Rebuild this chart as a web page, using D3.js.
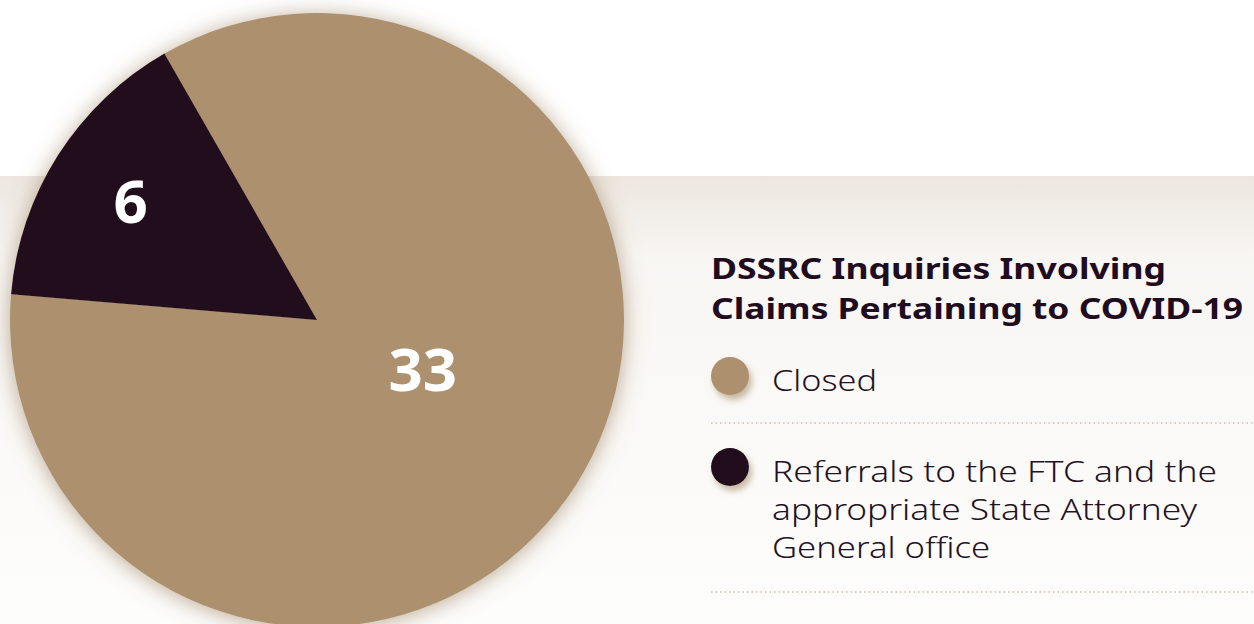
<!DOCTYPE html>
<html>
<head>
<meta charset="utf-8">
<script src="https://cdn.jsdelivr.net/npm/d3@7"></script>
<style>
  html, body { margin: 0; padding: 0; background: #fff; }
  svg { display: block; }
</style>
</head>
<body>
<svg id="chart" width="1254" height="624"></svg>
<script>
// data
const categories = ['Closed', 'Referrals to the FTC and the appropriate State Attorney General office'];
const values = [33, 6];
const colors = ['#ad916e', '#200d1f'];
const titleLines = ['DSSRC Inquiries Involving', 'Claims Pertaining to COVID-19'];
const legendLines = [['Closed'], ['Referrals to the FTC and the', 'appropriate State Attorney', 'General office']];

const W = 1254, H = 624;
const svg = d3.select('#chart');
const defs = svg.append('defs');

// background band gradient
const grad = defs.append('linearGradient')
  .attr('id', 'band').attr('x1', 0).attr('y1', 0).attr('x2', 0).attr('y2', 1);
grad.append('stop').attr('offset', '0%').attr('stop-color', '#ece6df');
grad.append('stop').attr('offset', '18%').attr('stop-color', '#f8f6f3');
grad.append('stop').attr('offset', '100%').attr('stop-color', '#fdfdfc');

// pie shadow
const sh = defs.append('filter').attr('id', 'pieShadow')
  .attr('x', '-20%').attr('y', '-20%').attr('width', '140%').attr('height', '140%');
sh.append('feDropShadow')
  .attr('dx', 0).attr('dy', 2).attr('stdDeviation', 11)
  .attr('flood-color', '#86653f').attr('flood-opacity', 0.55);

// legend dot shadow
const sh2 = defs.append('filter').attr('id', 'dotShadow')
  .attr('x', '-50%').attr('y', '-50%').attr('width', '200%').attr('height', '200%');
sh2.append('feDropShadow')
  .attr('dx', 3).attr('dy', 5).attr('stdDeviation', 3)
  .attr('flood-color', '#a0835f').attr('flood-opacity', 0.55);

svg.append('rect').attr('x', 0).attr('y', 176).attr('width', W).attr('height', H - 176)
  .attr('fill', 'url(#band)');

// pie
const cx = 317, cy = 320, R = 307;
const total = d3.sum(values);
const darkSpan = values[1] / total * 2 * Math.PI;
const darkMid = -57.5 * Math.PI / 180;
const start = darkMid + darkSpan / 2; // closed slice starts where the dark one ends

const pie = d3.pie().sort(null)
  .startAngle(start).endAngle(start + 2 * Math.PI);
const arcData = pie(values);
const arc = d3.arc().innerRadius(0).outerRadius(R);

const g = svg.append('g').attr('transform', `translate(${cx},${cy})`);
g.append('g').attr('filter', 'url(#pieShadow)')
  .selectAll('path')
  .data(arcData)
  .join('path')
  .attr('d', arc)
  .attr('fill', (d, i) => colors[i]);

// value labels (radius factor + small angle nudge per slice)
const labelR = [0.38, 0.72];
const labelNudge = [-7.5, 0];
g.selectAll('text.val')
  .data(arcData)
  .join('text')
  .attr('class', 'val')
  .each(function(d, i) {
    const a = (d.startAngle + d.endAngle) / 2 + labelNudge[i] * Math.PI / 180;
    const r = R * labelR[i];
    d3.select(this)
      .attr('x', Math.sin(a) * r)
      .attr('y', -Math.cos(a) * r);
  })
  .attr('dy', '0.36em')
  .attr('text-anchor', 'middle')
  .attr('fill', '#fff')
  .style('font-family', '"Noto Sans", sans-serif')
  .style('font-weight', 700)
  .style('font-size', '60px')
  .text(d => d.data);

// title
const tx = 711;
const titleWidths = [455, 532];
svg.append('g').selectAll('text')
  .data(titleLines)
  .join('text')
  .attr('x', tx)
  .attr('y', (d, i) => 279 + i * 40)
  .attr('textLength', (d, i) => titleWidths[i])
  .attr('lengthAdjust', 'spacingAndGlyphs')
  .attr('fill', '#1f0d1f')
  .style('font-family', '"Noto Sans", sans-serif')
  .style('font-weight', 700)
  .style('font-size', '29px')
  .text(d => d);

// legend
const legendY = [376, 467];
const lineWidths = [[105], [445, 425, 218]];
const leg = svg.append('g');
const item = leg.selectAll('g.item')
  .data(categories)
  .join('g')
  .attr('class', 'item');

item.append('circle')
  .attr('cx', 730)
  .attr('cy', (d, i) => legendY[i])
  .attr('r', 19)
  .attr('fill', (d, i) => colors[i])
  .attr('filter', 'url(#dotShadow)');

item.each(function(d, i) {
  d3.select(this).selectAll('text')
    .data(legendLines[i])
    .join('text')
    .attr('x', 772)
    .attr('y', (t, j) => legendY[i] + 15 + j * 38)
    .attr('textLength', (t, j) => lineWidths[i][j])
    .attr('lengthAdjust', 'spacingAndGlyphs')
    .attr('fill', '#231222')
    .style('font-family', '"Noto Sans", sans-serif')
    .style('font-weight', 300)
    .style('font-size', '29px')
    .text(t => t);
});

// dotted separators
const sepY = [423, 592];
leg.selectAll('line.sep')
  .data(sepY)
  .join('line')
  .attr('class', 'sep')
  .attr('x1', 711).attr('x2', W)
  .attr('y1', d => d).attr('y2', d => d)
  .attr('stroke', '#cdbfae')
  .attr('stroke-width', 1.5)
  .attr('stroke-dasharray', '1.5 3');
</script>
</body>
</html>
